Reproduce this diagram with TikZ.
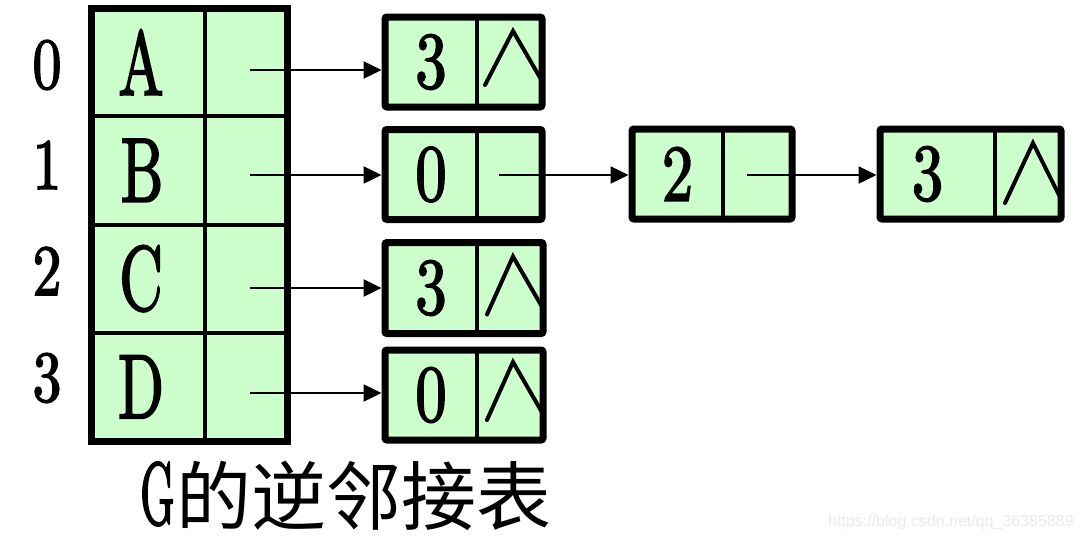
\documentclass[tikz,border=0pt]{standalone}
\usepackage{fontspec}
\usepackage{graphicx}
\newfontfamily\cjk{Noto Sans CJK SC}
\newfontfamily\wmfont{Liberation Sans}
\newfontfamily\lmbold{lmroman10-regular.otf}[FakeBold=2.5]
\usetikzlibrary{arrows.meta,fit,calc}
\definecolor{cellgreen}{HTML}{CCFFCC}
\newcommand\tletter[1]{\scalebox{0.66}[1]{\lmbold\fontsize{91}{91}\selectfont #1}}
\newcommand\rlabel[1]{\scalebox{0.8}[1]{\lmbold\fontsize{72}{72}\selectfont #1}}
\newcommand\dlabel[1]{\scalebox{0.78}[1]{\lmbold\fontsize{80}{80}\selectfont #1}}
\begin{document}
\begin{tikzpicture}[x=1pt,y=-1pt,
  tcell/.style={draw, fill=cellgreen, line width=4pt, outer sep=0pt, inner sep=0pt, minimum height=108.25pt},
  lcell/.style={draw, fill=cellgreen, line width=3.5pt, outer sep=0pt, inner sep=0pt},
  lframe/.style={draw, line width=7pt, inner sep=0pt, rounded corners=2pt},
  tframe/.style={draw, line width=7pt, inner sep=0pt},
  ptr/.style={line width=2.5pt, -{Triangle[length=18pt,width=17pt]}},
  nil/.style={line width=4pt, line cap=round},
  rowlab/.style={inner sep=0pt},
]
\useasboundingbox (0,0) rectangle (1080,538);

% table
\node[tcell, minimum width=114pt] (a0) at (148,62.125) {\tletter{A}\hspace*{14pt}};
\node[tcell, minimum width=82pt]  (p0) at (246,62.125) {};
\node[tcell, minimum width=114pt] (a1) at (148,170.375) {\tletter{B}\hspace*{12pt}};
\node[tcell, minimum width=82pt]  (p1) at (246,170.375) {};
\node[tcell, minimum width=114pt] (a2) at (148,278.625) {\tletter{C}\hspace*{14pt}};
\node[tcell, minimum width=82pt]  (p2) at (246,278.625) {};
\node[tcell, minimum width=114pt] (a3) at (148,386.875) {\tletter{D}\hspace*{14pt}};
\node[tcell, minimum width=82pt]  (p3) at (246,386.875) {};
\node[tframe, fit=(a0)(p3)] (tab) {};

% row labels
\node[rowlab] (r0) at (47,65)  {\rlabel{0}};
\node[rowlab] (r1) at (47,165) {\rlabel{1}};
\node[rowlab] (r2) at (47,271) {\rlabel{2}};
\node[rowlab] (r3) at (47,378) {\rlabel{3}};

% list row 0
\node[lcell, minimum width=92pt, minimum height=90pt] (l0d) at (431,62) {\dlabel{3}};
\node[lcell, minimum width=65pt, minimum height=90pt] (l0p) at (509.5,62) {};
\draw[nil] ($(l0p.north west)+(8,68)$) -- ($(l0p.north west)+(36,14)$) -- ($(l0p.north east)+(0,64)$);
\node[lframe, fit=(l0d)(l0p)] (l0) {};

% list row 1
\node[lcell, minimum width=92pt, minimum height=90pt] (l1d) at (431,174.5) {\dlabel{0}};
\node[lcell, minimum width=65pt, minimum height=90pt] (l1p) at (509.5,174.5) {};
\node[lframe, fit=(l1d)(l1p)] (l1) {};

\node[lcell, minimum width=91pt, minimum height=90pt] (m1d) at (677.5,174) {\dlabel{2}};
\node[lcell, minimum width=69pt, minimum height=90pt] (m1p) at (757.5,174) {};
\node[lframe, fit=(m1d)(m1p)] (m1) {};

\node[lcell, minimum width=115pt, minimum height=90pt] (k1d) at (937.5,174) {\dlabel{3}\hspace*{20pt}};
\node[lcell, minimum width=66pt, minimum height=90pt] (k1p) at (1028,174) {};
\draw[nil] ($(k1p.north west)+(10,74)$) -- ($(k1p.north west)+(38,14)$) -- ($(k1p.north east)+(0,70)$);
\node[lframe, fit=(k1d)(k1p)] (k1) {};

% list row 2
\node[lcell, minimum width=92pt, minimum height=91pt] (l2d) at (431,288) {\dlabel{3}};
\node[lcell, minimum width=66pt, minimum height=91pt] (l2p) at (510,288) {};
\draw[nil] ($(l2p.north west)+(10,72)$) -- ($(l2p.north west)+(36,14)$) -- ($(l2p.north east)+(0,66)$);
\node[lframe, fit=(l2d)(l2p)] (l2) {};

% list row 3
\node[lcell, minimum width=92pt, minimum height=90pt] (l3d) at (431,395) {\dlabel{0}};
\node[lcell, minimum width=66pt, minimum height=90pt] (l3p) at (510,395) {};
\draw[nil] ($(l3p.north west)+(10,70)$) -- ($(l3p.north west)+(36,12)$) -- ($(l3p.north east)+(0,64)$);
\node[lframe, fit=(l3d)(l3p)] (l3) {};

% pointers
\coordinate (s0) at (250,70);
\coordinate (s1) at (250,175);
\coordinate (s2) at (250,288);
\coordinate (s3) at (250,393);
\coordinate (s4) at (499,175);
\coordinate (s5) at (747,175);
\draw[ptr] (s0) -- (s0 -| l0.west);
\draw[ptr] (s1) -- (s1 -| l1.west);
\draw[ptr] (s2) -- (s2 -| l2.west);
\draw[ptr] (s3) -- (s3 -| l3.west);
\draw[ptr] (s4) -- (s4 -| m1.west);
\draw[ptr] (s5) -- (s5 -| k1.west);

% caption
\node[anchor=base west, inner sep=0pt] (title) at (140,524)
  {\scalebox{0.5}[1]{\lmbold\fontsize{88}{88}\selectfont G}\hspace{2pt}{\cjk\fontsize{75}{75}\selectfont 的逆邻接表}};
\node[anchor=base west, inner sep=0pt, text=black!8] (wm) at (828,526)
  {\wmfont\fontsize{16}{16}\selectfont https://blog.csdn.net/qq\_36385889};
\end{tikzpicture}
\end{document}
